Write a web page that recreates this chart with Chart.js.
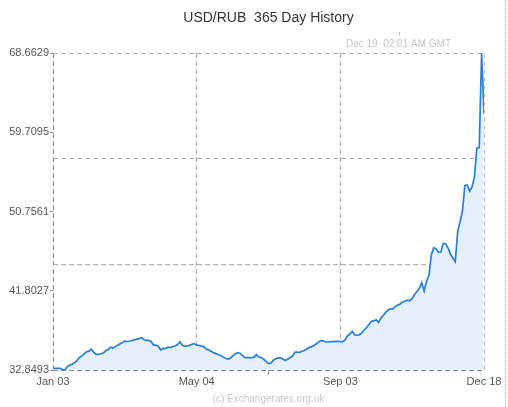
<!DOCTYPE html>
<html><head><meta charset="utf-8">
<script src="https://cdn.jsdelivr.net/npm/chart.js@4.4.1/dist/chart.umd.min.js"></script>
<style>
html,body{margin:0;padding:0;background:#fff;}
#wrap{position:relative;width:508px;height:407px;}
#edge{position:absolute;left:505px;top:0;width:0;height:407px;border-left:1px dotted #9cc8d4;}
</style></head><body>
<div id="wrap"><canvas id="c"></canvas><div id="edge"></div></div>
<script>
const chartTitle = 'USD/RUB  365 Day History';
const stamp = 'Dec 19  02:01 AM GMT';
const credit = '(c) Exchangerates.org.uk';
const xTickLabels = ['Jan 03', 'May 04', '', 'Sep 03', 'Dec 18'];
const yTickValues = [32.8493, 41.8027, 50.7561, 59.7095, 68.6629];
const rates = [
33.04,33.04,33.04,33.03,32.89,32.8493,33.23,33.40,33.50,33.66,
33.90,34.28,34.43,34.68,34.91,34.98,35.19,34.87,34.62,34.62,
34.68,34.77,35.02,35.13,35.43,35.32,35.49,35.64,35.81,35.95,
36.10,36.07,36.10,36.18,36.26,36.33,36.39,36.49,36.27,36.20,
36.20,36.07,35.67,35.67,35.52,35.11,35.29,35.27,35.43,35.38,
35.50,35.56,35.73,36.02,35.64,35.54,35.56,35.63,35.76,35.82,
35.65,35.63,35.54,35.50,35.20,35.14,34.97,34.82,34.70,34.60,
34.48,34.32,34.17,34.09,34.16,34.42,34.67,34.78,34.77,34.50,
34.28,34.25,34.24,34.24,34.30,34.59,34.31,34.25,34.07,33.79,
33.60,33.62,33.95,34.11,34.21,34.23,34.09,33.92,34.07,34.23,
34.42,34.85,34.88,34.83,34.96,35.05,35.23,35.40,35.49,35.62,
35.81,36.02,36.19,36.11,36.01,36.01,36.05,36.05,36.09,36.09,
36.05,36.05,36.26,36.71,36.91,37.22,36.81,36.78,36.83,37.05,
37.40,37.65,38.01,38.35,38.42,38.52,38.24,38.74,39.04,39.38,
39.62,39.75,39.76,40.03,40.18,40.31,40.55,40.61,40.75,40.68,
40.93,41.38,41.72,42.08,42.71,41.77,42.87,43.53,45.84,46.66,
46.54,46.15,46.18,47.16,47.08,46.63,45.92,45.51,45.08,48.44,
49.62,50.81,53.69,53.75,53.04,53.52,54.60,57.90,57.98,68.6629,
61.88
];

const FONT = "'Liberation Sans', Arial, Helvetica, sans-serif";
Chart.defaults.font.family = FONT;

const last = rates.length - 1;
const xTickPos = [0, last / 3, last / 2, 2 * last / 3, last];

const extras = {
  id: 'extras',
  afterDraw(chart) {
    const {ctx, chartArea: a} = chart;
    ctx.save();
    ctx.fillStyle = '#c6c6c6';
    ctx.font = '10px ' + FONT;
    ctx.textAlign = 'center';
    ctx.textBaseline = 'middle';
    const sx = a.right - 85.5;
    ctx.fillText(stamp, sx, a.top - 8.7);
    ctx.strokeStyle = '#bdbdbd';
    ctx.lineWidth = 1;
    ctx.beginPath();
    ctx.moveTo(Math.round(sx) + 0.5, a.top - 21);
    ctx.lineTo(Math.round(sx) + 0.5, a.top - 17.5);
    ctx.stroke();
    ctx.fillText(credit, (a.left + a.right) / 2, chart.height - 7.5);
    ctx.restore();
  }
};

new Chart(document.getElementById('c'), {
  type: 'line',
  data: {
    datasets: [{
      data: rates.map((v, i) => ({x: i, y: v})),
      borderColor: '#2c7fd3',
      borderWidth: 1.7,
      backgroundColor: '#e5f0fb',
      fill: 'start',
      pointRadius: 0,
      tension: 0,
      xAxisID: 'x',
      yAxisID: 'y'
    }]
  },
  options: {
    responsive: true,
    maintainAspectRatio: false,
    animation: false,
    layout: {padding: {left: 0, right: 24, top: 0, bottom: 0}},
    plugins: {
      legend: {display: false},
      tooltip: {enabled: false},
      title: {
        display: true,
        text: chartTitle,
        fullSize: false,
        color: '#333',
        font: {size: 14, weight: 'normal', family: FONT},
        padding: {top: 10, bottom: 26.2}
      }
    },
    scales: {
      x: {
        type: 'linear',
        min: 0,
        max: last,
        afterBuildTicks: ax => { ax.ticks = xTickPos.map(v => ({value: v})); },
        afterFit: ax => { ax.height = 37; },
        ticks: {
          autoSkip: false,
          maxRotation: 0,
          padding: 0,
          color: '#555',
          font: {size: 11},
          callback: (v, i) => xTickLabels[i]
        },
        grid: {
          color: c => ['#8a8a8a', '#ababab', 'rgba(0,0,0,0)', '#ababab', '#c4c4c4'][c.index],
          tickColor: c => c.index === 2 ? '#999' : 'rgba(0,0,0,0)',
          lineWidth: 1,
          tickLength: 5
        },
        border: {display: false, dash: [5, 3]}
      },
      y: {
        type: 'linear',
        position: 'left',
        min: yTickValues[0],
        max: yTickValues[yTickValues.length - 1],
        afterBuildTicks: ax => { ax.ticks = yTickValues.map(v => ({value: v})); },
        afterFit: ax => { ax.width = 53; },
        ticks: {
          padding: 1,
          color: '#555',
          font: {size: 11},
          callback: v => Number(v).toFixed(4)
        },
        grid: {drawOnChartArea: false, tickLength: 3, tickColor: '#888'},
        border: {display: false}
      },
      yg: {
        type: 'linear',
        position: 'left',
        min: yTickValues[0],
        max: yTickValues[yTickValues.length - 1],
        afterBuildTicks: ax => {
          const lo = ax.min, hi = ax.max, r = hi - lo;
          ax.ticks = [lo, lo + r / 3, lo + 2 * r / 3, hi].map(v => ({value: v}));
        },
        afterFit: ax => { ax.width = 0; },
        ticks: {display: false},
        grid: {
          drawTicks: false,
          color: c => c.index === 0 ? '#8a8a8a' : '#ababab',
          lineWidth: 1
        },
        border: {display: false, dash: [5, 3]}
      }
    }
  },
  plugins: [extras]
});
</script>
</body></html>
